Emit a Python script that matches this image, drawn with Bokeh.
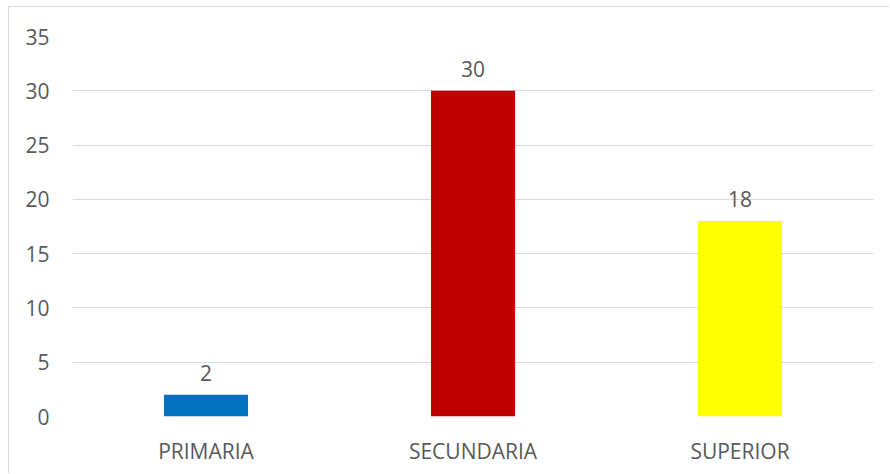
from bokeh.plotting import figure
from bokeh.models import ColumnDataSource, FixedTicker, Range1d
from bokeh.core.properties import value
from bokeh.embed import file_html
from bokeh.resources import INLINE

categories = ["PRIMARIA", "SECUNDARIA", "SUPERIOR"]
counts = [2, 30, 18]
colors = ["#0070C0", "#C00000", "#FFFF00"]
y_ticks = [0, 5, 10, 15, 20, 25, 30, 35]

FONT = "Open Sans"
TXT = "#595959"

src = ColumnDataSource(dict(cat=categories, val=counts, col=colors,
                            lab=[str(v) for v in counts]))

p = figure(x_range=categories, width=881, height=467, output_backend="svg",
           toolbar_location=None, min_border_left=63, min_border_right=17,
           min_border_top=29, min_border_bottom=58)
p.y_range = Range1d(0, 35)
p.styles = {"border-left": "1px solid #d9d9d9", "border-top": "1px solid #d9d9d9",
            "margin-left": "8px", "margin-top": "6px"}
p.outline_line_color = None
p.background_fill_color = "white"
p.border_fill_color = "white"

p.vbar(x="cat", top="val", width=0.315, fill_color="col", line_color=None, source=src)
p.text(x="cat", y="val", text="lab", source=src, text_align="center",
       text_baseline="bottom", y_offset=-14, text_font=value(FONT),
       text_font_size="21px", text_color=TXT)

p.xgrid.grid_line_color = None
p.ygrid.grid_line_color = "#d9d9d9"
p.ygrid.grid_line_width = 1
p.yaxis.ticker = FixedTicker(ticks=y_ticks)

for ax in (p.xaxis[0], p.yaxis[0]):
    ax.axis_line_color = None
    ax.major_tick_line_color = None
    ax.minor_tick_line_color = None
    ax.major_label_text_font = FONT
    ax.major_label_text_font_size = "21px"
    ax.major_label_text_color = TXT
p.yaxis.major_label_standoff = 17
p.xaxis.major_label_standoff = 14

open("out.html", "w").write(file_html(p, INLINE))
